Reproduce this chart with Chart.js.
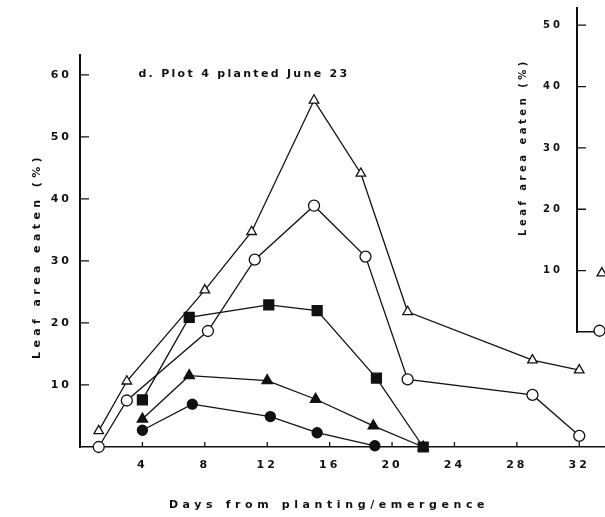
<!DOCTYPE html>
<html>
<head>
<meta charset="utf-8">
<script src="https://cdn.jsdelivr.net/npm/chart.js@4.4.1/dist/chart.umd.min.js"></script>
<style>
  html, body { margin: 0; padding: 0; background: #fff; overflow: hidden; }
  #wrap { position: relative; width: 605px; height: 517px; overflow: hidden; }
  #main { position: absolute; left: 0; top: 0; }
  #side { position: absolute; left: 479px; top: 0; }
</style>
</head>
<body>
<div id="wrap">
  <canvas id="main" width="605" height="517"></canvas>
  <canvas id="side" width="300" height="340"></canvas>
</div>
<script>
// axis ticks
const dayTicks = [4, 8, 12, 16, 20, 24, 28, 32];
const pctTicks = [10, 20, 30, 40, 50, 60];
const sidePctTicks = [10, 20, 30, 40, 50];

// plot 4 series (days after planting, % leaf area eaten)
const openTriDays = [1.2, 3, 8, 11, 15, 18, 21, 29, 32];
const openTriPct = [2.6, 10.6, 25.3, 34.7, 55.9, 44.1, 21.8, 14.0, 12.4];

const openCircDays = [1.2, 3, 8.2, 11.2, 15, 18.3, 21, 29, 32];
const openCircPct = [0, 7.5, 18.7, 30.2, 38.9, 30.7, 10.9, 8.4, 1.8];

const filledCircDays = [4, 7.2, 12.2, 15.2, 18.9];
const filledCircPct = [2.7, 6.9, 4.9, 2.3, 0.2];

const filledTriDays = [4, 7, 12, 15.1, 18.8, 22];
const filledTriPct = [4.5, 11.5, 10.7, 7.7, 3.4, 0];

const filledSqDays = [4, 7, 12.1, 15.2, 19, 22];
const filledSqPct = [7.6, 20.9, 22.9, 22.0, 11.1, 0];

// next panel, only its first points show
const sideTriDays = [1.6];
const sideTriPct = [9.6];
const sideCircDays = [1.45];
const sideCircPct = [0.2];

const FONT = "'DejaVu Sans', sans-serif";
const INK = "#111";

function pts(xs, ys) {
  return xs.map((x, i) => ({ x: x, y: ys[i] }));
}

function series(label, xs, ys, style, filled, r) {
  return {
    label: label,
    data: pts(xs, ys),
    borderColor: INK,
    borderWidth: 1.3,
    pointStyle: style,
    pointRadius: r,
    pointHoverRadius: r,
    pointBackgroundColor: filled ? INK : "#fff",
    pointBorderColor: INK,
    pointBorderWidth: 1.3,
    tension: 0,
    clip: false,
  };
}

// fixed axis size, no extra label padding at the ends
function fixSize(prop, px) {
  return (s) => {
    s[prop] = px;
    s.paddingLeft = 0;
    s.paddingRight = 0;
    s.paddingTop = 0;
    s.paddingBottom = 0;
  };
}

function useTicks(list) {
  return (s) => { s.ticks = list.map((v) => ({ value: v })); };
}

// inward tick marks and letter-spaced text, like the old typed figures
function paperAxes(cfg) {
  return {
    id: "paperAxes",
    beforeDraw(chart) {
      chart.ctx.letterSpacing = cfg.tickSpacing + "px";
    },
    beforeDatasetsDraw(chart) {
      const ctx = chart.ctx;
      const { x, y } = chart.scales;
      const area = chart.chartArea;
      ctx.save();
      ctx.strokeStyle = INK;
      ctx.lineWidth = 1.3;
      ctx.beginPath();
      y.ticks.forEach((t) => {
        const py = y.getPixelForValue(t.value);
        ctx.moveTo(area.left, py);
        ctx.lineTo(area.left + cfg.yTickLen, py);
      });
      x.ticks.forEach((t) => {
        const px = x.getPixelForValue(t.value);
        ctx.moveTo(px, area.bottom);
        ctx.lineTo(px, area.bottom - cfg.xTickLen);
      });
      ctx.stroke();
      ctx.restore();
    },
    afterDraw(chart) {
      const ctx = chart.ctx;
      cfg.texts.forEach((tx) => {
        const p = tx.at(chart);
        ctx.save();
        ctx.fillStyle = INK;
        ctx.font = "bold " + tx.size + "px " + FONT;
        ctx.letterSpacing = tx.spacing + "px";
        ctx.translate(p[0], p[1]);
        ctx.rotate(tx.rot || 0);
        ctx.textAlign = tx.align || "center";
        ctx.textBaseline = "middle";
        ctx.fillText(tx.text, 0, 0);
        ctx.restore();
      });
    },
  };
}

function tickFont(size) {
  return { family: FONT, size: size, weight: "bold" };
}

const noGrid = { display: false, drawTicks: false };

const mainChart = new Chart(document.getElementById("main"), {
  type: "line",
  data: {
    datasets: [
      series("open triangle", openTriDays, openTriPct, "triangle", false, 5.5),
      series("open circle", openCircDays, openCircPct, "circle", false, 5.5),
      series("filled circle", filledCircDays, filledCircPct, "circle", true, 5),
      series("filled triangle", filledTriDays, filledTriPct, "triangle", true, 6),
      series("filled square", filledSqDays, filledSqPct, "rect", true, 7),
    ],
  },
  options: {
    responsive: false,
    animation: false,
    events: [],
    layout: { autoPadding: false, padding: { top: 55, left: 0, right: 0, bottom: 0 } },
    plugins: { legend: { display: false }, tooltip: { enabled: false } },
    scales: {
      x: {
        type: "linear",
        min: 0,
        max: 33.65,
        afterBuildTicks: useTicks(dayTicks),
        afterFit: fixSize("height", 70),
        grid: noGrid,
        border: { display: true, color: INK, width: 1.6 },
        ticks: { font: tickFont(11), color: INK, padding: 12, autoSkip: false, maxRotation: 0 },
      },
      y: {
        min: 0,
        max: 63.2,
        afterBuildTicks: useTicks(pctTicks),
        afterFit: fixSize("width", 80),
        grid: noGrid,
        border: { display: true, color: INK, width: 2 },
        ticks: { font: tickFont(11), color: INK, padding: 8 },
      },
    },
  },
  plugins: [
    paperAxes({
      tickSpacing: 3,
      yTickLen: 9,
      xTickLen: 5,
      texts: [
        {
          text: "d. Plot 4 planted June 23",
          size: 11, spacing: 2.3, align: "left",
          at: (c) => [c.scales.x.getPixelForValue(4) - 4, c.scales.y.getPixelForValue(60) - 1],
        },
        {
          text: "Leaf area eaten (%)",
          size: 11, spacing: 4.4, rot: -Math.PI / 2,
          at: (c) => [37, (c.chartArea.top + c.chartArea.bottom) / 2 + 5],
        },
        {
          text: "Days from planting/emergence",
          size: 11, spacing: 4.6,
          at: (c) => [c.chartArea.left + 249, 505],
        },
      ],
    }),
  ],
});

const sideChart = new Chart(document.getElementById("side"), {
  type: "line",
  data: {
    datasets: [
      series("open triangle", sideTriDays, sideTriPct, "triangle", false, 5.5),
      series("open circle", sideCircDays, sideCircPct, "circle", false, 5.5),
    ],
  },
  options: {
    responsive: false,
    animation: false,
    events: [],
    layout: { autoPadding: false, padding: { top: 8, left: 0, right: 0, bottom: 0 } },
    plugins: { legend: { display: false }, tooltip: { enabled: false } },
    scales: {
      x: {
        type: "linear",
        min: 0,
        max: 13,
        afterBuildTicks: useTicks(dayTicks),
        afterFit: fixSize("height", 8),
        grid: noGrid,
        border: { display: true, color: INK, width: 1.6 },
        ticks: { display: false },
      },
      y: {
        min: 0,
        max: 52.8,
        afterBuildTicks: useTicks(sidePctTicks),
        afterFit: fixSize("width", 98),
        grid: noGrid,
        border: { display: true, color: INK, width: 2 },
        ticks: { font: tickFont(10), color: INK, padding: 14 },
      },
    },
  },
  plugins: [
    paperAxes({
      tickSpacing: 3,
      yTickLen: 9,
      xTickLen: 5,
      texts: [
        {
          text: "Leaf area eaten (%)",
          size: 10, spacing: 3.5, rot: -Math.PI / 2,
          at: () => [44, 147],
        },
      ],
    }),
  ],
});
</script>
</body>
</html>
